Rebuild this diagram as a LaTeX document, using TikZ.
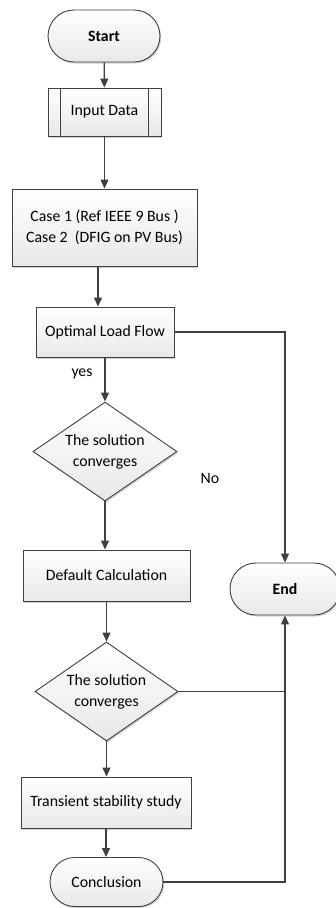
\documentclass[tikz,border=0pt]{standalone}
\usepackage{fontspec}
\setmainfont{Carlito}
\usetikzlibrary{arrows.meta,shapes.geometric,shapes.misc,shadows,calc}
\definecolor{edge}{RGB}{64,64,64}
\definecolor{boxbot}{RGB}{232,232,232}
\tikzset{
  base/.style={draw=edge, line width=0.9pt, top color=white, bottom color=boxbot,
    drop shadow={shadow xshift=1.2pt, shadow yshift=-1.5pt, fill=black, opacity=0.18},
    font=\fontsize{15.8}{21}\selectfont, align=center, inner sep=0pt},
  procbox/.style={base, rectangle},
  termbox/.style={base, rounded rectangle, font=\fontsize{15.8}{21}\selectfont\bfseries},
  termplain/.style={base, rounded rectangle},
  decbox/.style={base, diamond, aspect=1.45},
  arr/.style={draw=edge, line width=1.2pt, -{Triangle[length=9pt,width=8pt]}},
  ln/.style={draw=edge, line width=1.2pt},
  lbl/.style={font=\fontsize{15.8}{21}\selectfont, inner sep=0pt}
}
\begin{document}
\begin{tikzpicture}[x=1pt,y=-1pt]
\useasboundingbox (0,0) rectangle (335,908);
\node[termbox, minimum width=112pt, minimum height=52pt] (start) at (104,36) {Start};
\node[procbox, minimum width=113pt, minimum height=48pt] (input) at (104.5,112) {Input Data};
\draw[edge, line width=0.9pt] ($(input.north west)+(13,0)$) -- ($(input.south west)+(13,0)$);
\draw[edge, line width=0.9pt] ($(input.north east)+(-13,0)$) -- ($(input.south east)+(-13,0)$);
\node[procbox, minimum width=185pt, minimum height=77pt] (cases) at (104.5,227.5) {Case 1 (Ref IEEE 9 Bus )\\Case 2\ \ (DFIG on PV Bus)};
\node[procbox, minimum width=138pt, minimum height=50pt] (opt) at (105,332) {Optimal Load Flow};
\node[decbox, minimum width=144pt, minimum height=99pt] (d1) at (105,451.5) {The solution\\converges};
\node[procbox, minimum width=167pt, minimum height=51pt] (dflt) at (106.5,575.5) {Default Calculation};
\node[termbox, minimum width=110pt, minimum height=52pt] (end) at (285,589) {End};
\node[decbox, minimum width=143pt, minimum height=99pt] (d2) at (106.5,691.5) {The solution\\converges};
\node[procbox, minimum width=170pt, minimum height=51pt] (trans) at (106,802.5) {Transient stability study};
\node[termplain, minimum width=113pt, minimum height=49pt] (concl) at (106.5,882) {Conclusion};
\node[lbl] (yes) at (82,374) {yes};
\node[lbl] (no) at (210,478) {No};
\coordinate (cx) at (98,0);
\draw[arr] (start) -- (input);
\draw[arr] (input) -- (cases.north -| input);
\draw[arr] (cases.south -| cx) -- (opt.north -| cx);
\draw[arr] (opt) -- (d1);
\draw[arr] (d1.south) -- (dflt.north -| d1.south);
\draw[arr] (dflt) -- (d2);
\draw[arr] (d2) -- (trans.north -| d2.south);
\draw[arr] (trans) -- (concl.north -| trans.south);
\draw[arr] (opt.east) -| (end.north);
\draw[arr] (concl.east) -| (end.south);
\draw[ln] (d2.east) -- (d2.east -| end.south);
\end{tikzpicture}
\end{document}
